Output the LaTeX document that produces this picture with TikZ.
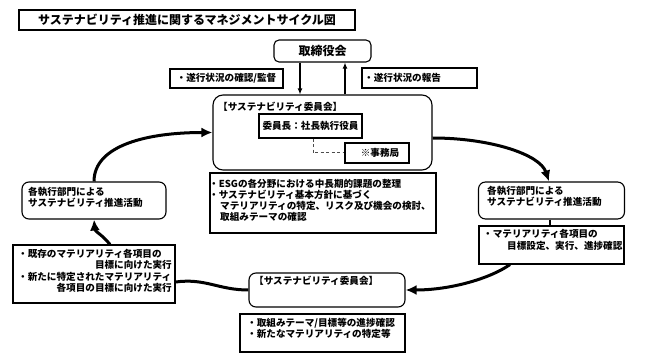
\documentclass[tikz,border=0pt]{standalone}
\usepackage{fontspec}
\setmainfont{Noto Sans CJK JP}
\usetikzlibrary{arrows.meta}
\begin{document}
\begin{tikzpicture}[x=1pt,y=-1pt,
  box/.style={draw, line width=1.1pt, inner sep=0pt, font=\fontsize{9.6}{11}\selectfont\bfseries},
  rbox/.style={box, rounded corners=#1},
  rbox/.default=7pt,
  txt/.style={inner sep=0pt, anchor=base west, font=\fontsize{9.6}{11}\selectfont\bfseries},
  txtr/.style={txt, anchor=base east},
  bigarrow/.style={line width=3pt, -{Latex[length=11pt,width=10pt]}},
  bigline/.style={line width=3pt},
  tarrow/.style={line width=1.2pt, -{Latex[length=6pt,width=5pt]}}]
\useasboundingbox (0,0) rectangle (645,363);

% title
\node[box, line width=1.3pt, minimum width=336pt, minimum height=20pt, font=\fontsize{12}{14}\selectfont\bfseries] (title) at (187,20) {サステナビリティ推進に関するマネジメントサイクル図};

% board
\node[rbox=5pt, minimum width=97pt, minimum height=22pt, font=\fontsize{12}{14}\selectfont\bfseries] (board) at (322.5,51) {取締役会};

% labels
\node[box, minimum width=113pt, minimum height=19pt] (lab1) at (226.5,78.5) {・遂行状況の確認/監督};
\node[box, minimum width=115pt, minimum height=20pt] (lab2) at (419.5,78) {};
\node[txt] (lab2t) at (364,82) {・遂行状況の報告};

% committee
\node[rbox=10pt, minimum width=219pt, minimum height=75pt] (com) at (322.5,132.5) {};
\node[txt] (comt) at (218,111) {【サステナビリティ委員会】};
\node[box, minimum width=103pt, minimum height=24pt] (chair) at (310.5,126) {委員長：社長執行役員};
\node[box, minimum width=64pt, minimum height=20pt] (sec) at (377,153) {\hspace*{6pt}※事務局};

% ESG box
\node[box, minimum width=226pt, minimum height=60pt] (esg) at (323,203) {};
\node[txt] (esg1) at (209,188) {・ESGの各分野における中長期的課題の整理};
\node[txt] (esg2) at (209,199) {・サステナビリティ基本方針に基づく};
\node[txt] (esg3) at (220,210) {マテリアリティの特定、リスク及び機会の検討、};
\node[txt] (esg4) at (220,221) {取組みテーマの確認};

% left activity
\node[rbox=7pt, minimum width=144pt, minimum height=37pt] (lact) at (94,200.5) {};
\node[txt] (lact1) at (28,196) {各執行部門による};
\node[txt] (lact2) at (28,207) {サステナビリティ推進活動};

% left text
\node[box, minimum width=162pt, minimum height=58pt] (ltxt) at (94,274) {};
\node[txt] (ltxt1) at (18,258) {・既存のマテリアリティ各項目の};
\node[txtr] (ltxt2) at (172,269) {目標に向けた実行};
\node[txt] (ltxt3) at (18,280) {・新たに特定されたマテリアリティ};
\node[txtr] (ltxt4) at (172,291) {各項目の目標に向けた実行};

% bottom committee
\node[rbox=7pt, minimum width=156pt, minimum height=34pt] (bcom) at (327,290) {};
\node[txt] (bcomt) at (254,284) {【サステナビリティ委員会】};

% bottom text
\node[box, minimum width=165pt, minimum height=38pt] (btxt) at (322.5,333) {};
\node[txt] (btxt1) at (247,326) {・取組みテーマ/目標等の進捗確認};
\node[txt] (btxt2) at (247,337) {・新たなマテリアリティの特定等};

% right activity
\node[rbox=7pt, minimum width=146pt, minimum height=37pt] (ract) at (551.5,200.5) {};
\node[txt] (ract1) at (487,195) {各執行部門による};
\node[txt] (ract2) at (487,206) {サステナビリティ推進活動};

% right text
\node[box, minimum width=145pt, minimum height=38pt] (rtxt) at (551.5,245) {};
\node[txt] (rtxt1) at (483,238) {・マテリアリティ各項目の};
\node[txt] (rtxt2) at (507,250) {目標設定、実行、進捗確認};

% thin arrows
\draw[tarrow] ([xshift=-22.5pt]board.south) -- ([xshift=-22.5pt]com.north);
\draw[tarrow] ([xshift=22.5pt]com.north) -- ([xshift=22.5pt]board.south);

% dashed link
\draw[dashed, dash pattern=on 3pt off 2.5pt, line width=1pt, black!70] ([xshift=2.5pt]chair.south) |- (sec.west);

% cycle
\draw[bigarrow] (lact.north) .. controls +(0,-37) and +(-63,0) .. (com.west);
\draw[bigarrow] ([yshift=-5.5pt]com.east) .. controls +(58,0) and +(-9,-27) .. ([xshift=-2.5pt]ract.north);
\draw[line width=2.5pt] ([xshift=-1.5pt]ract.south) -- ([xshift=-1.5pt]rtxt.north);
\draw[bigarrow] ([xshift=-41.5pt]rtxt.south) .. controls +(-20,14) and +(45,0) .. (bcom.east);
\draw[bigline] (bcom.west) .. controls +(-30,0) and +(30,-4) .. ([yshift=-8pt]ltxt.east);
\draw[bigarrow] ([xshift=16pt]ltxt.north) .. controls +(-8,-10) and +(1,12) .. (lact.south);
\end{tikzpicture}
\end{document}
